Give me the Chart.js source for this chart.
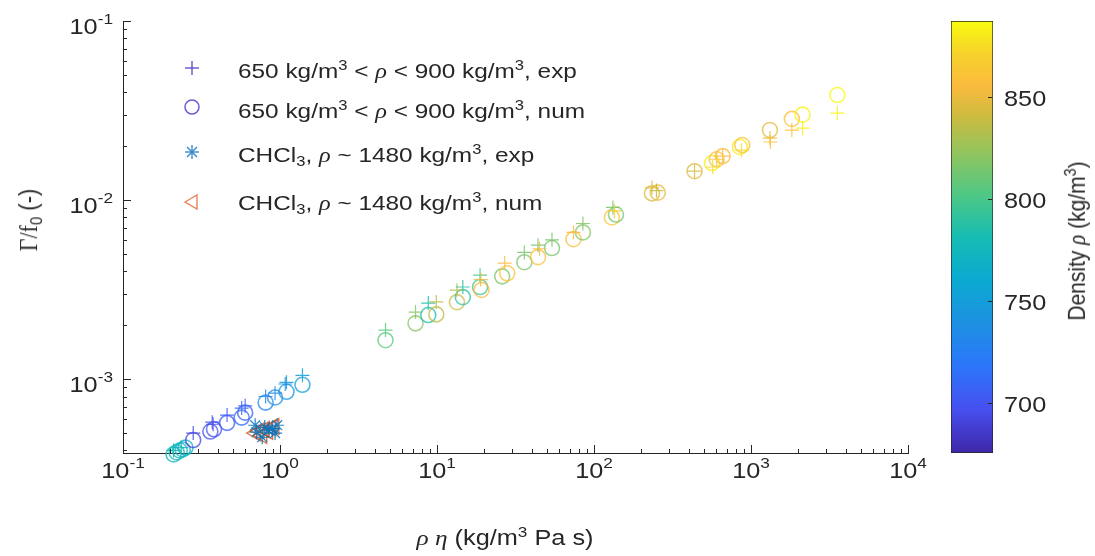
<!DOCTYPE html>
<html lang="en">
<head>
<meta charset="UTF-8">
<title>Gamma/f0 vs rho*eta</title>
<script src="https://cdn.jsdelivr.net/npm/chart.js"></script>
<style>
body { margin: 0; background: #fff; font-family: "Liberation Sans", Arial, sans-serif; }
#wrap { position: relative; width: 1095px; height: 556px; overflow: hidden; background: #fff; }
#main { position: absolute; left: 0; top: 0; }
#cbar { position: absolute; left: 930px; top: 0; }
.lbl { position: absolute; white-space: nowrap; color: #262626; line-height: 1; font-size: 21px; }
.lbl sup, .lbl sub { font-size: 68%; vertical-align: baseline; position: relative; }
.lbl sup { top: -0.55em; }
.lbl sub { top: 0.3em; }
.gr { font-family: "Liberation Serif", serif; font-style: italic; }
.legrow { transform: scaleX(1.16); transform-origin: left center; }
.leg svg { position: absolute; }
</style>
</head>
<body>
<div id="wrap">
  <canvas id="main" width="930" height="556"></canvas>
  <canvas id="cbar" width="165" height="556"></canvas>
  <div class="leg">
    <svg style="left:182px;top:58px" width="20" height="20"><g stroke="#5446cc" stroke-width="1.3" fill="none"><line x1="3" y1="10" x2="17" y2="10"/><line x1="10" y1="3" x2="10" y2="17"/></g></svg>
    <svg style="left:182px;top:97px" width="20" height="20"><circle cx="10" cy="10" r="7" stroke="#6a5bd6" stroke-width="1.5" fill="none"/></svg>
    <svg style="left:182px;top:142px" width="20" height="20"><g stroke="#2a86cc" stroke-width="1.3" fill="none"><line x1="3" y1="10" x2="17" y2="10"/><line x1="10" y1="3" x2="10" y2="17"/><line x1="5" y1="5" x2="15" y2="15"/><line x1="5" y1="15" x2="15" y2="5"/></g></svg>
    <svg style="left:182px;top:192px" width="20" height="20"><polygon points="3,10 15,3 15,17" stroke="#e8825a" stroke-width="1.4" fill="none"/></svg>
  </div>
  <div class="lbl legrow" style="left:238px;top:60px">650 kg/m<sup>3</sup> &lt; <span class="gr">ρ</span> &lt; 900 kg/m<sup>3</sup>, exp</div>
  <div class="lbl legrow" style="left:238px;top:100px">650 kg/m<sup>3</sup> &lt; <span class="gr">ρ</span> &lt; 900 kg/m<sup>3</sup>, num</div>
  <div class="lbl legrow" style="left:238px;top:144px">CHCl<sub>3</sub>, <span class="gr">ρ</span> ~ 1480 kg/m<sup>3</sup>, exp</div>
  <div class="lbl legrow" style="left:238px;top:192px">CHCl<sub>3</sub>, <span class="gr">ρ</span> ~ 1480 kg/m<sup>3</sup>, num</div>
  <div class="lbl" style="left:29px;top:220px;font-size:22px;transform:translate(-50%,-50%) rotate(-90deg) scaleY(1.15)"><span style="font-family:'Liberation Serif',serif">Γ/f</span><sub>0</sub> (-)</div>
  <div class="lbl" style="left:505px;top:538px;font-size:22px;transform:translate(-50%,-50%) scaleX(1.15)"><span class="gr">ρ η</span> (kg/m<sup>3</sup> Pa s)</div>
  <div class="lbl" style="left:1077px;top:241px;font-size:21px;transform:translate(-50%,-50%) rotate(-90deg) scaleY(1.15)">Density <span class="gr">ρ</span> (kg/m<sup>3</sup>)</div>
</div>

<script>
const SX = 1.15; // text in the figure is a bit wide
const FONT = '"Liberation Sans", Arial, sans-serif';
const INK = '#262626';

// 650 < rho < 900 kg/m3, experiment (+)
const expX = [0.21, 0.235, 0.28, 0.37, 0.375, 0.46, 0.57, 0.60, 0.81, 0.93, 1.08, 1.10, 1.39,
  4.7, 7.3, 8.8, 9.9, 13.4, 14.6, 18.8, 19.0, 27, 36, 44, 45, 54, 74, 85, 132, 135,
  234, 250, 437, 570, 605, 660, 870, 1320, 1330, 1820, 2130, 3550];
const expY = [4.0e-4, 4.15e-4, 5.0e-4, 5.75e-4, 5.6e-4, 6.3e-4, 6.9e-4, 7.1e-4, 8.0e-4, 8.35e-4, 9.4e-4, 9.6e-4, 1.05e-3,
  1.88e-3, 2.37e-3, 2.66e-3, 2.7e-3, 3.14e-3, 3.27e-3, 3.81e-3, 3.6e-3, 4.45e-3, 5.1e-3, 5.6e-3, 5.35e-3, 6.0e-3, 6.6e-3, 7.4e-3, 9.1e-3, 8.7e-3,
  1.17e-2, 1.13e-2, 1.45e-2, 1.53e-2, 1.69e-2, 1.76e-2, 1.9e-2, 2.22e-2, 2.11e-2, 2.46e-2, 2.52e-2, 3.06e-2];
const expRho = [775, 772, 692, 698, 696, 703, 710, 706, 732, 736, 742, 745, 752,
  805, 818, 785, 835, 835, 790, 800, 850, 855, 815, 812, 855, 815, 855, 818, 815, 870,
  845, 840, 845, 875, 860, 855, 875, 848, 860, 862, 882, 885];

// 650 < rho < 900 kg/m3, numerical (o)
const numX = [0.21, 0.22, 0.23, 0.24, 0.25, 0.28, 0.36, 0.38, 0.46, 0.57, 0.60, 0.81, 0.93, 1.10, 1.39,
  4.7, 7.3, 8.8, 9.9, 13.4, 14.6, 18.8, 19.2, 26, 28, 36, 44, 54, 74, 85, 130, 138,
  234, 255, 437, 565, 605, 660, 850, 880, 1320, 1820, 2130, 3550];
const numY = [3.8e-4, 3.9e-4, 4.0e-4, 4.05e-4, 4.15e-4, 4.57e-4, 5.1e-4, 5.25e-4, 5.7e-4, 6.1e-4, 6.5e-4, 7.4e-4, 7.9e-4, 8.5e-4, 9.3e-4,
  1.65e-3, 2.05e-3, 2.28e-3, 2.3e-3, 2.69e-3, 2.87e-3, 3.27e-3, 3.15e-3, 3.75e-3, 3.9e-3, 4.5e-3, 4.8e-3, 5.4e-3, 6.05e-3, 6.6e-3, 8.0e-3, 8.3e-3,
  1.09e-2, 1.10e-2, 1.45e-2, 1.61e-2, 1.69e-2, 1.76e-2, 1.98e-2, 2.03e-2, 2.46e-2, 2.84e-2, 3.0e-2, 3.86e-2];
const numRho = [775, 778, 780, 772, 770, 692, 700, 698, 704, 710, 706, 732, 736, 745, 752,
  805, 818, 785, 835, 840, 790, 795, 855, 815, 858, 815, 858, 815, 858, 818, 862, 815,
  845, 848, 845, 880, 858, 855, 880, 860, 848, 858, 884, 886];

// CHCl3, rho ~ 1480 kg/m3
const chclExpX = [0.695, 0.71, 0.77, 0.80, 0.84, 0.89, 0.93, 0.96];
const chclExpY = [5.53e-4, 5.06e-4, 4.74e-4, 5.4e-4, 5.2e-4, 5.3e-4, 5.0e-4, 5.53e-4];
const chclNumX = [0.70, 0.74, 0.77, 0.80, 0.84, 0.88, 0.92];
const chclNumY = [5.0e-4, 5.15e-4, 4.85e-4, 5.25e-4, 5.1e-4, 5.35e-4, 5.45e-4];

const xTickExp = [-1, 0, 1, 2, 3, 4];
const yTickExp = [-3, -2, -1];
const cbTicks = [700, 750, 800, 850];
const xMin = 0.1, xMax = 1e4, yMin = 3.87e-4, yMax = 0.1;
const cbMin = 675.5, cbMax = 887;

// parula-like colormap
const parula = [
  [0.00, [62, 38, 168]], [0.10, [71, 79, 238]], [0.20, [44, 118, 251]],
  [0.30, [30, 144, 226]], [0.40, [10, 170, 210]], [0.50, [22, 188, 178]],
  [0.60, [80, 200, 132]], [0.70, [150, 196, 92]], [0.78, [205, 187, 64]],
  [0.85, [252, 187, 62]], [0.92, [246, 208, 45]], [1.00, [249, 251, 14]]
];
function parulaRGB(t) {
  t = Math.max(0, Math.min(1, t));
  for (let i = 1; i < parula.length; i++) {
    if (t <= parula[i][0]) {
      const [t0, c0] = parula[i - 1], [t1, c1] = parula[i];
      const f = (t - t0) / (t1 - t0);
      return c0.map((v, k) => Math.round(v + (c1[k] - v) * f));
    }
  }
  return parula[parula.length - 1][1];
}
function rhoColor(rho, a) {
  const c = parulaRGB((rho - cbMin) / (cbMax - cbMin));
  return `rgba(${c[0]},${c[1]},${c[2]},${a})`;
}
const pts = (xs, ys) => xs.map((x, i) => ({ x: x, y: ys[i] }));

// draws "10" with a raised exponent, horizontally stretched
function drawPow(ctx, e, x, base, align) {
  const s = String(e);
  ctx.font = `22px ${FONT}`;
  const w1 = ctx.measureText('10').width * SX;
  ctx.font = `15px ${FONT}`;
  const w2 = ctx.measureText(s).width * SX;
  let left = align === 'center' ? x - (w1 + w2) / 2 : x - (w1 + w2);
  ctx.save();
  ctx.translate(left, base); ctx.scale(SX, 1);
  ctx.font = `22px ${FONT}`; ctx.fillText('10', 0, 0);
  ctx.restore();
  ctx.save();
  ctx.translate(left + w1, base - 10); ctx.scale(SX, 1);
  ctx.font = `15px ${FONT}`; ctx.fillText(s, 0, 0);
  ctx.restore();
}

const logAxes = {
  id: 'logAxes',
  afterDraw(chart) {
    const { ctx, chartArea: a, scales: { x, y } } = chart;
    ctx.save();
    ctx.strokeStyle = INK; ctx.lineWidth = 1; ctx.fillStyle = INK;
    ctx.textAlign = 'left'; ctx.textBaseline = 'alphabetic';
    ctx.beginPath();
    for (let d = -1; d < 4; d++) {
      for (let k = 1; k <= 10; k++) {
        const v = k * Math.pow(10, d);
        if (v < xMin || v > xMax) continue;
        const px = Math.round(x.getPixelForValue(v)) + 0.5;
        const len = (k === 1 || k === 10) ? 8 : 4;
        ctx.moveTo(px, a.bottom); ctx.lineTo(px, a.bottom - len);
      }
    }
    for (let d = -4; d < -1; d++) {
      for (let k = 1; k <= 10; k++) {
        const v = k * Math.pow(10, d);
        if (v < yMin || v > yMax * 1.0001) continue;
        const py = Math.round(y.getPixelForValue(v)) + 0.5;
        const len = (k === 1 || k === 10) ? 8 : 4;
        ctx.moveTo(a.left, py); ctx.lineTo(a.left + len, py);
      }
    }
    ctx.stroke();
    xTickExp.forEach(e => drawPow(ctx, e, x.getPixelForValue(Math.pow(10, e)), a.bottom + 25, 'center'));
    yTickExp.forEach(e => drawPow(ctx, e, a.left - 10, y.getPixelForValue(Math.pow(10, e)) + 13, 'right'));
    ctx.restore();
  }
};

new Chart(document.getElementById('main'), {
  type: 'scatter',
  data: {
    datasets: [
      {
        label: 'exp',
        data: pts(expX, expY),
        pointStyle: 'cross',
        pointRadius: 7,
        pointBorderWidth: 1.2,
        pointBorderColor: expRho.map(r => rhoColor(r, 0.85)),
        pointBackgroundColor: 'rgba(0,0,0,0)',
        clip: false
      },
      {
        label: 'num',
        data: pts(numX, numY),
        pointStyle: 'circle',
        pointRadius: 7.5,
        pointBorderWidth: 1.6,
        pointBorderColor: numRho.map(r => rhoColor(r, 0.75)),
        pointBackgroundColor: 'rgba(0,0,0,0)',
        clip: false
      },
      {
        label: 'CHCl3 exp',
        data: pts(chclExpX, chclExpY),
        pointStyle: 'star',
        pointRadius: 7,
        pointBorderWidth: 1.2,
        pointBorderColor: 'rgba(0,114,189,0.85)',
        pointBackgroundColor: 'rgba(0,0,0,0)',
        clip: false
      },
      {
        label: 'CHCl3 num',
        data: pts(chclNumX, chclNumY),
        pointStyle: 'triangle',
        pointRotation: -90,
        pointRadius: 9,
        pointBorderWidth: 1.4,
        pointBorderColor: 'rgba(217,83,25,0.8)',
        pointBackgroundColor: 'rgba(0,0,0,0)',
        clip: false
      }
    ]
  },
  options: {
    responsive: false,
    animation: false,
    layout: { padding: { top: 21, right: 22, left: 0, bottom: 0 } },
    plugins: { legend: { display: false }, tooltip: { enabled: false } },
    scales: {
      x: {
        type: 'logarithmic', min: xMin, max: xMax,
        grid: { display: false, drawTicks: false },
        border: { display: true, color: INK, width: 1 },
        ticks: { display: false },
        afterFit(s) { s.height = 103; }
      },
      y: {
        type: 'logarithmic', min: yMin, max: yMax,
        grid: { display: false, drawTicks: false },
        border: { display: true, color: INK, width: 1 },
        ticks: { display: false },
        afterFit(s) { s.width = 123; }
      }
    }
  },
  plugins: [logAxes]
});

// colour bar
const cbAxis = {
  id: 'cbAxis',
  afterDraw(chart) {
    const { ctx, chartArea: a, scales: { y } } = chart;
    ctx.save();
    ctx.strokeStyle = INK; ctx.lineWidth = 1; ctx.fillStyle = INK;
    ctx.textBaseline = 'alphabetic';
    ctx.font = `22px ${FONT}`;
    cbTicks.forEach(v => {
      const py = Math.round(y.getPixelForValue(v)) + 0.5;
      ctx.beginPath(); ctx.moveTo(a.right - 1, py); ctx.lineTo(a.right - 5, py); ctx.stroke();
      ctx.save();
      ctx.translate(a.right + 11, py + 8); ctx.scale(SX, 1);
      ctx.fillText(String(v), 0, 0);
      ctx.restore();
    });
    ctx.restore();
  }
};

new Chart(document.getElementById('cbar'), {
  type: 'bar',
  data: {
    labels: [''],
    datasets: [{
      data: [[cbMin, cbMax]],
      backgroundColor(c) {
        const ch = c.chart, ys = ch.scales.y;
        if (!ch.chartArea || !ys) return '#888';
        const g = ch.ctx.createLinearGradient(0, ys.getPixelForValue(cbMin), 0, ys.getPixelForValue(cbMax));
        parula.forEach(([t, col]) => g.addColorStop(t, `rgb(${col[0]},${col[1]},${col[2]})`));
        return g;
      },
      borderColor: INK,
      borderWidth: 1,
      borderSkipped: false,
      barPercentage: 1,
      categoryPercentage: 1
    }]
  },
  options: {
    responsive: false,
    animation: false,
    layout: { padding: { top: 21, bottom: 103, left: 21, right: 0 } },
    plugins: { legend: { display: false }, tooltip: { enabled: false } },
    scales: {
      x: { display: false },
      y: {
        position: 'right', min: cbMin, max: cbMax,
        grid: { display: false, drawTicks: false },
        border: { display: false },
        ticks: { display: false },
        afterFit(s) { s.width = 102; }
      }
    }
  },
  plugins: [cbAxis]
});
</script>
</body>
</html>
